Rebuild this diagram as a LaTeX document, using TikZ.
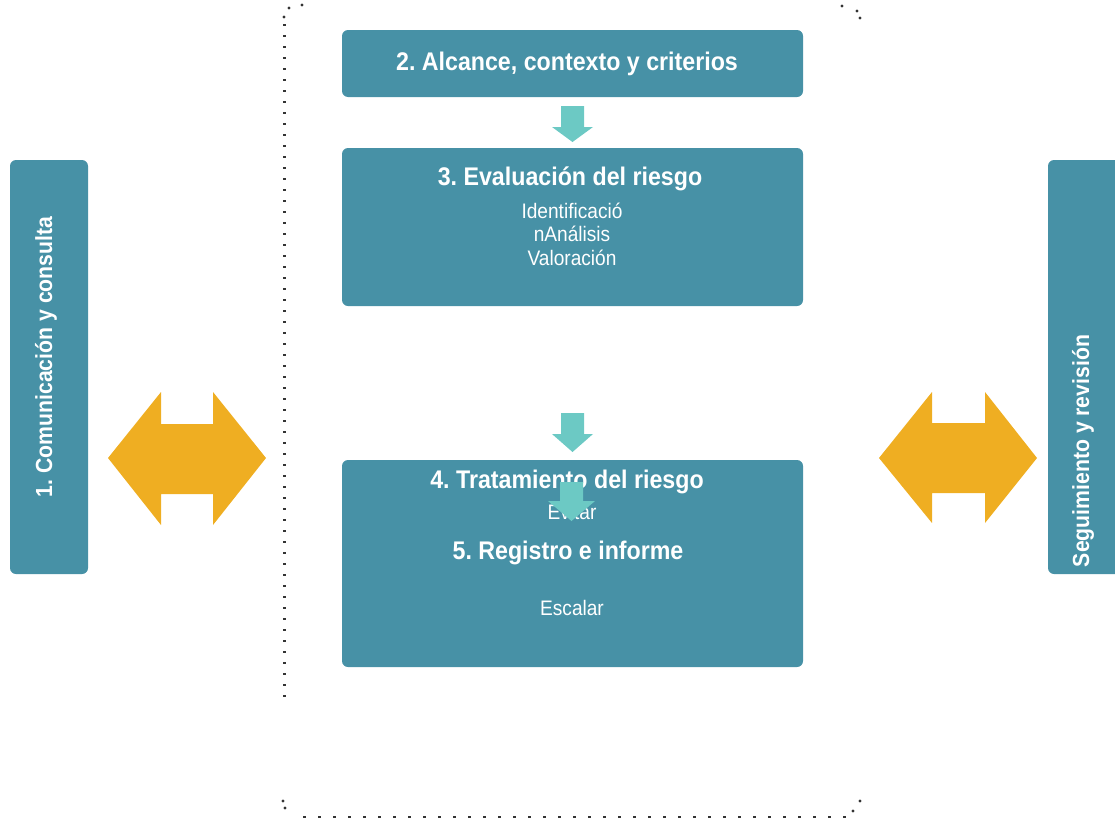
\documentclass[tikz,border=0pt]{standalone}
\usepackage{fontspec}
\setmainfont{Liberation Sans}[FakeStretch=0.91]
\frenchspacing
\definecolor{boxc}{HTML}{4791A6}
\definecolor{tealc}{HTML}{6CC9C4}
\definecolor{orac}{HTML}{EFAE22}
\definecolor{dotc}{HTML}{333333}
\tikzset{
  panel/.style={fill=boxc, draw=none, rounded corners=6pt},
  ttl/.style={text=white, font=\frenchspacing\bfseries\fontsize{25.5}{28}\selectfont, inner sep=0pt, align=center},
  sub/.style={text=white, font=\fontsize{21}{23.5}\selectfont, inner sep=0pt, align=center},
  side/.style={text=white, font=\frenchspacing\bfseries\fontsize{23.3}{26}\selectfont, inner sep=0pt, rotate=90},
  dn/.style={fill=tealc, draw=none},
  dbl/.style={fill=orac, draw=none},
  dotline/.style={draw=dotc, line width=3pt},
  cdot/.style={fill=dotc, draw=none}
}
\begin{document}
\begin{tikzpicture}[x=1pt,y=-1pt]
\useasboundingbox (0,0) rectangle (1115,819);
% dotted frame (partial)
\draw[dotline, dash pattern=on 2.2pt off 8.8pt] (284,24) -- (284,697);
\draw[dotline, line width=2.2pt, dash pattern=on 3pt off 12pt] (303,817) -- (852,817);
\foreach \p in {(289,8),(302,5),(284,17),(842,6),(857,11),(860,18),(283,801),(285,808),(860,801),(853,811)}
  \fill[cdot] \p circle (1.7pt);
% side panels
\fill[panel] (10,160) rectangle (88,574);
\node[side] (t1) at (46,357) {1. Comunicación y consulta};
\fill[panel] (1048,160) rectangle (1130,574);
\node[side] (t6) at (1083,451) {Seguimiento y revisión};
% central panels
\fill[panel] (342,30) rectangle (803,97);
\node[ttl] (t2) at (567,64) {2. Alcance, contexto y criterios};
\fill[panel] (342,148) rectangle (803,306);
\node[ttl] (t3) at (570,179) {3. Evaluación del riesgo};
\node[sub] (s3) at (572,234) {Identificació\\nAnálisis\\Valoración};
\fill[panel] (342,460) rectangle (803,667);
\node[ttl] (t4) at (567,482) {4. Tratamiento del riesgo};
\node[sub] (s4) at (572,512) {Evitar};
\node[ttl] (t5) at (568,553) {5. Registro e informe};
\node[sub] (s5) at (572,608) {Escalar};
% teal down arrows
\fill[dn] (561,106) -- (584,106) -- (584,127) -- (593,127) -- (572.5,142) -- (552,127) -- (561,127) -- cycle;
\fill[dn] (561,413) -- (584,413) -- (584,434) -- (593,434) -- (572.5,452) -- (552,434) -- (561,434) -- cycle;
\fill[dn] (560,482) -- (583,482) -- (583,501) -- (595,501) -- (571.5,521) -- (548,501) -- (560,501) -- cycle;
% orange double arrows
\fill[dbl] (108,458) -- (161,392) -- (161,424) -- (213,424) -- (213,392) -- (266,458) -- (213,525) -- (213,494) -- (161,494) -- (161,525) -- cycle;
\fill[dbl] (879,458) -- (932,392) -- (932,423) -- (985,423) -- (985,392) -- (1037,458) -- (985,523) -- (985,493) -- (932,493) -- (932,523) -- cycle;
\end{tikzpicture}
\end{document}
